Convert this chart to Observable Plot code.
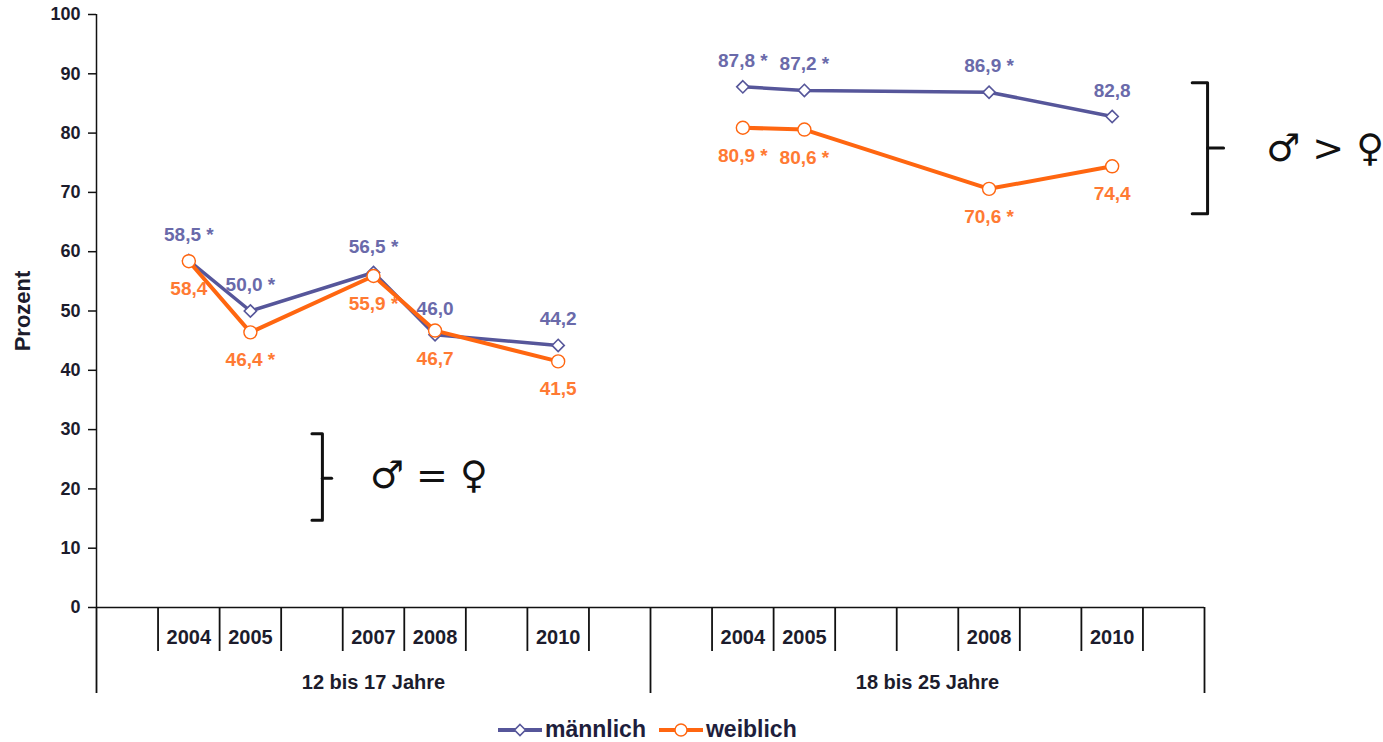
<!DOCTYPE html>
<html>
<head>
<meta charset="utf-8">
<script src="https://cdn.jsdelivr.net/npm/d3@7"></script>
<script src="https://cdn.jsdelivr.net/npm/@observablehq/plot@0.6"></script>
<style>
  html, body { margin: 0; padding: 0; background: #fff; }
  body { font-family: "Liberation Sans", Arial, sans-serif; width: 1383px; height: 742px; position: relative; overflow: hidden; }
  #chart svg { display: block; }
  #legend { position: absolute; left: 497px; top: 716px; display: flex; align-items: center; font: bold 23px "Liberation Sans", Arial, sans-serif; color: #1e1e3c; }
  #legend .item { display: flex; align-items: center; margin-right: 12px; }
  #legend svg { display: block; margin-right: 2px; }
</style>
</head>
<body>
<div id="chart"></div>
<div id="legend"></div>
<script>
// ---- Data ----
const groups = ["12 bis 17 Jahre", "18 bis 25 Jahre"];
const slotLabels1 = ["", "2004", "2005", "", "2007", "2008", "", "2010", ""];
const slotLabels2 = ["", "2004", "2005", "", "", "2008", "", "2010", ""];
const series = ["männlich", "weiblich"];

const years1 = ["2004", "2005", "2007", "2008", "2010"];
const male1 = [58.5, 50.0, 56.5, 46.0, 44.2];
const maleSig1 = [true, true, true, false, false];
const female1 = [58.4, 46.4, 55.9, 46.7, 41.5];
const femaleSig1 = [false, true, true, false, false];

const years2 = ["2004", "2005", "2008", "2010"];
const male2 = [87.8, 87.2, 86.9, 82.8];
const maleSig2 = [true, true, true, false];
const female2 = [80.9, 80.6, 70.6, 74.4];
const femaleSig2 = [true, true, true, false];

const yTicks = [0, 10, 20, 30, 40, 50, 60, 70, 80, 90, 100];

// ---- Build table ----
const slotLabels = [slotLabels1, slotLabels2];
const nSlots = slotLabels1.length;
function rows(gi, years, vals, sigs, sex) {
  return years.map((yr, i) => ({
    group: groups[gi], sex, year: yr,
    slot: gi * nSlots + slotLabels[gi].indexOf(yr) + 0.5,
    value: vals[i],
    label: vals[i].toFixed(1).replace(".", ",") + (sigs[i] ? " *" : "")
  }));
}
const maleData = [...rows(0, years1, male1, maleSig1, series[0]), ...rows(1, years2, male2, maleSig2, series[0])];
const femaleData = [...rows(0, years1, female1, femaleSig1, series[1]), ...rows(1, years2, female2, femaleSig2, series[1])];

const slots = [];
slotLabels.forEach((labels, gi) => labels.forEach((l, k) => slots.push({x: gi * nSlots + k + 0.5, label: l})));
const innerSeps = [];
const groupSeps = [];
groups.forEach((g, gi) => {
  for (let k = 1; k < nSlots; k++) innerSeps.push(gi * nSlots + k);
  groupSeps.push(gi * nSlots);
});
groupSeps.push(groups.length * nSlots);
const groupCenters = groups.map((g, gi) => ({x: gi * nSlots + nSlots / 2, label: g}));

const maleColor = "#56569a";
const maleText = "#6a6aaa";
const femaleColor = "#ff6610";
const femaleText = "#ff7a33";
const axisText = "#1c1c2c";

const W = 1383, H = 705;

// annotation brackets (data coordinates)
const bracket1 = [[17.8, 88.5], [18.05, 88.5], [18.05, 66.4], [17.8, 66.4]];
const tick1 = [[18.05, 77.5], [18.31, 77.5]];
const bracket2 = [[3.5, 29.3], [3.67, 29.3], [3.67, 14.7], [3.5, 14.7]];
const tick2 = [[3.67, 21.8], [3.82, 21.8]];

const plot = Plot.plot({
  width: W,
  height: H,
  marginLeft: 96,
  marginRight: 179,
  marginTop: 14,
  marginBottom: H - 607,
  x: {domain: [0, groups.length * nSlots], axis: null},
  y: {domain: [0, 100], axis: null},
  style: {fontFamily: "'Liberation Sans', Arial, sans-serif", background: "white"},
  marks: [
    Plot.axisY({ticks: yTicks, tickSize: 8, tickPadding: 8, fontSize: 18, fontWeight: "bold", fill: axisText, stroke: "#111", strokeWidth: 1.5, label: null, tickFormat: d => String(d)}),
    Plot.ruleX([0], {y1: 0, y2: 100, stroke: "#111", strokeWidth: 1.5}),
    Plot.ruleY([0], {x1: 0, x2: groups.length * nSlots, stroke: "#111", strokeWidth: 1.5}),
    Plot.ruleX(innerSeps, {x: d => d, y1: 0, y2: 0, insetBottom: -44, stroke: "#111", strokeWidth: 1.8}),
    Plot.ruleX(groupSeps, {x: d => d, y1: 0, y2: 0, insetBottom: -86, stroke: "#111", strokeWidth: 1.8}),
    Plot.text(slots, {x: "x", y: 0, dy: 30, text: "label", fontSize: 20, fontWeight: "bold", fill: axisText}),
    Plot.text(groupCenters, {x: "x", y: 0, dy: 75, text: "label", fontSize: 20, fontWeight: "bold", fill: axisText}),
    Plot.text(["Prozent"], {frameAnchor: "left", dx: -74, rotate: -90, textAnchor: "middle", fontSize: 22, fontWeight: "bold", fill: axisText}),
    // lines
    Plot.line(maleData, {x: "slot", y: "value", z: "group", stroke: maleColor, strokeWidth: 3.5}),
    Plot.dot(maleData, {x: "slot", y: "value", symbol: "diamond2", r: 5.5, fill: "white", stroke: maleColor, strokeWidth: 1.6}),
    Plot.line(femaleData, {x: "slot", y: "value", z: "group", stroke: femaleColor, strokeWidth: 4}),
    Plot.dot(femaleData, {x: "slot", y: "value", symbol: "circle", r: 6.5, fill: "white", stroke: femaleColor, strokeWidth: 1.4}),
    // value labels
    Plot.text(maleData, {x: "slot", y: "value", text: "label", dy: -26, fontSize: 19, fontWeight: "bold", fill: maleText}),
    Plot.text(femaleData, {x: "slot", y: "value", text: "label", dy: 28, fontSize: 19, fontWeight: "bold", fill: femaleText}),
    // annotations
    Plot.line(bracket1, {x: d => d[0], y: d => d[1], stroke: "#111", strokeWidth: 3, strokeLinejoin: "round"}),
    Plot.line(tick1, {x: d => d[0], y: d => d[1], stroke: "#111", strokeWidth: 3}),
    Plot.line(bracket2, {x: d => d[0], y: d => d[1], stroke: "#111", strokeWidth: 3, strokeLinejoin: "round"}),
    Plot.line(tick2, {x: d => d[0], y: d => d[1], stroke: "#111", strokeWidth: 3}),
    Plot.text(["\u2642 > \u2640"], {x: 19.96, y: 77.3, fontSize: 38, fill: "#111", fontFamily: "DejaVu Sans"}),
    Plot.text(["\u2642 = \u2640"], {x: 5.4, y: 22.2, fontSize: 38, fill: "#111", fontFamily: "DejaVu Sans"})
  ]
});
document.getElementById("chart").appendChild(plot);

// legend
const legend = d3.select("#legend");
[[series[0], maleColor, "diamond"], [series[1], femaleColor, "circle"]].forEach(([name, color, shape]) => {
  const item = legend.append("div").attr("class", "item");
  const sw = item.append("svg").attr("width", 46).attr("height", 20);
  sw.append("line").attr("x1", 1).attr("x2", 45).attr("y1", 10).attr("y2", 10).attr("stroke", color).attr("stroke-width", 4);
  if (shape === "diamond") {
    sw.append("path").attr("d", "M23,4.5L28.5,10L23,15.5L17.5,10Z").attr("fill", "white").attr("stroke", color).attr("stroke-width", 1.6);
  } else {
    sw.append("circle").attr("cx", 23).attr("cy", 10).attr("r", 6).attr("fill", "white").attr("stroke", color).attr("stroke-width", 1.4);
  }
  item.append("span").text(name);
});
</script>
</body>
</html>
